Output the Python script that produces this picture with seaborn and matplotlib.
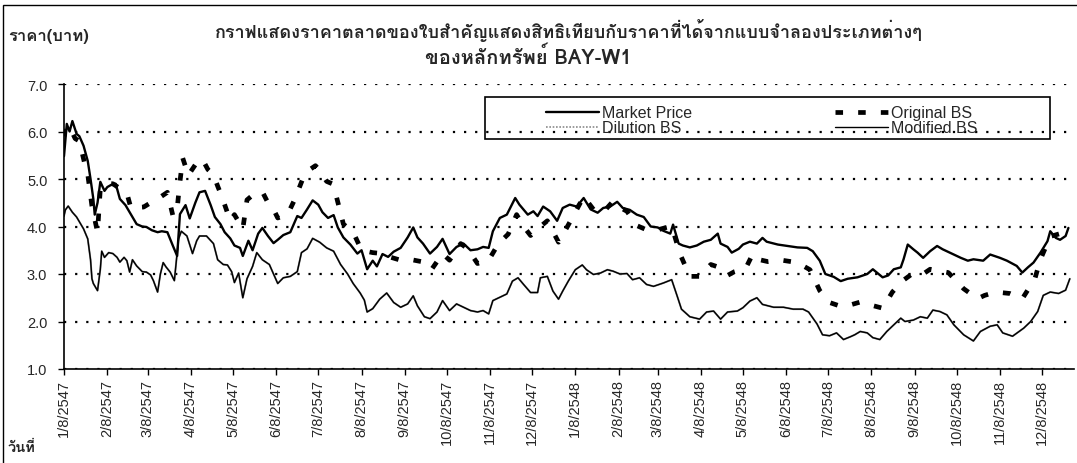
import pandas as pd
import matplotlib
matplotlib.use("Agg")
import matplotlib.pyplot as plt
import matplotlib.patches as mpatches
from matplotlib.lines import Line2D
from matplotlib import font_manager
from matplotlib.ft2font import FT2Font
import seaborn as sns

# --- DATA ---
START = pd.Timestamp("2004-01-08")   # 1/8/2547 in the Thai calendar

tick_labels = ["1/8/2547", "2/8/2547", "3/8/2547", "4/8/2547", "5/8/2547", "6/8/2547",
               "7/8/2547", "8/8/2547", "9/8/2547", "10/8/2547", "11/8/2547", "12/8/2547",
               "1/8/2548", "2/8/2548", "3/8/2548", "4/8/2548", "5/8/2548", "6/8/2548",
               "7/8/2548", "8/8/2548", "9/8/2548", "10/8/2548", "11/8/2548", "12/8/2548"]

# days after START, warrant market price (baht)
market_day = [0, 2, 4, 6, 9, 11, 14, 17, 19, 21, 22, 24, 26, 29, 31, 34, 37, 40, 44, 47,
              52, 56, 59, 63, 67, 70, 74, 78, 81, 83, 87, 90, 94, 97, 101, 105, 108, 112, 115, 119,
              122, 126, 128, 132, 135, 139, 142, 146, 150, 153, 157, 162, 167, 170, 174, 178, 182, 185, 189, 193,
              196, 200, 205, 210, 213, 217, 221, 224, 228, 232, 236, 241, 246, 250, 253, 257, 262, 267, 271, 276,
              281, 286, 291, 296, 300, 304, 307, 312, 317, 323, 326, 332, 336, 339, 343, 348, 353, 357, 362, 367,
              372, 377, 382, 386, 391, 396, 400, 405, 410, 415, 420, 425, 429, 434, 436, 440, 443, 448, 453, 458,
              463, 468, 470, 475, 478, 483, 486, 491, 496, 500, 503, 511, 518, 525, 532, 536, 541, 545, 551, 556,
              561, 568, 575, 579, 586, 590, 594, 599, 601, 604, 608, 611, 615, 620, 625, 629, 637, 642, 647, 651,
              658, 663, 670, 675, 682, 686, 690, 694, 699, 704, 706, 710, 713, 717, 719]
market_price = [5.48, 6.16, 6.0, 6.22, 5.95, 5.9, 5.7, 5.38, 5.0, 4.58, 4.25, 4.5, 4.94, 4.75, 4.83, 4.88, 4.9, 4.58, 4.45, 4.3,
                4.05, 4.0, 3.99, 3.92, 3.88, 3.9, 3.88, 3.59, 3.38, 4.26, 4.45, 4.17, 4.5, 4.72, 4.75, 4.45, 4.2, 4.05, 3.88, 3.75,
                3.6, 3.55, 3.38, 3.7, 3.5, 3.85, 3.97, 3.8, 3.65, 3.72, 3.82, 3.88, 4.22, 4.18, 4.36, 4.55, 4.46, 4.3, 4.18, 4.24,
                3.98, 3.77, 3.62, 3.43, 3.5, 3.1, 3.28, 3.16, 3.42, 3.36, 3.47, 3.55, 3.77, 3.98, 3.77, 3.64, 3.43, 3.57, 3.74, 3.42,
                3.57, 3.64, 3.5, 3.52, 3.57, 3.55, 3.9, 4.18, 4.25, 4.6, 4.46, 4.25, 4.32, 4.22, 4.42, 4.32, 4.12, 4.39, 4.46, 4.42,
                4.6, 4.36, 4.29, 4.39, 4.42, 4.52, 4.39, 4.35, 4.25, 4.2, 4.0, 3.98, 3.91, 3.85, 4.04, 3.64, 3.6, 3.56, 3.6, 3.68,
                3.72, 3.85, 3.64, 3.57, 3.45, 3.53, 3.62, 3.68, 3.64, 3.76, 3.68, 3.62, 3.59, 3.56, 3.55, 3.48, 3.28, 3.0, 2.94, 2.85,
                2.9, 2.93, 3.0, 3.1, 2.93, 2.97, 3.1, 3.14, 3.31, 3.62, 3.52, 3.45, 3.34, 3.48, 3.59, 3.52, 3.41, 3.34, 3.28, 3.31,
                3.28, 3.41, 3.34, 3.28, 3.17, 3.03, 3.14, 3.24, 3.45, 3.69, 3.9, 3.76, 3.72, 3.8, 3.97]

# Original Black-Scholes value
original_day = [0, 1, 4, 8, 11, 15, 17, 20, 24, 26, 30, 35, 40, 45, 48, 52, 57, 62, 67, 74,
                78, 81, 83, 85, 89, 94, 99, 103, 107, 110, 113, 119, 122, 128, 131, 135, 142, 146, 150, 153,
                160, 165, 171, 176, 180, 183, 188, 192, 195, 200, 207, 213, 221, 228, 233, 241, 249, 256, 263, 271,
                276, 284, 289, 296, 304, 311, 318, 324, 329, 334, 341, 346, 354, 360, 366, 372, 379, 386, 393, 398,
                403, 410, 417, 425, 435, 441, 448, 455, 463, 468, 475, 480, 488, 493, 498, 504, 514, 525, 534, 541,
                548, 557, 563, 570, 577, 586, 593, 600, 607, 615, 620, 633, 644, 654, 659, 667, 677, 686, 695, 699,
                706, 713, 719]
original_price = [5.9, 6.1, 6.1, 5.85, 5.8, 5.3, 5.1, 4.43, 3.88, 4.8, 4.9, 4.9, 4.8, 4.7, 4.38, 4.4, 4.41, 4.5, 4.58, 4.72,
                  4.22, 4.38, 4.94, 5.44, 5.08, 5.3, 5.42, 5.2, 5.09, 4.85, 4.63, 4.12, 4.25, 3.95, 4.56, 4.66, 4.73, 4.5, 4.36, 4.18,
                  4.25, 4.56, 5.01, 5.2, 5.28, 5.18, 4.95, 4.9, 4.63, 4.05, 3.88, 3.5, 3.45, 3.43, 3.36, 3.29, 3.3, 3.26, 3.09, 3.43,
                  3.29, 3.64, 3.53, 3.22, 3.29, 3.64, 3.84, 4.25, 4.0, 3.81, 4.0, 4.12, 3.67, 3.98, 4.3, 4.63, 4.36, 4.3, 4.53, 4.4,
                  4.32, 4.02, 3.93, 3.93, 4.01, 3.42, 2.95, 2.95, 3.2, 3.15, 2.97, 3.05, 3.12, 3.42, 3.3, 3.26, 3.29, 3.24, 3.09, 2.65,
                  2.4, 2.31, 2.35, 2.41, 2.35, 2.28, 2.62, 2.85, 3.0, 3.0, 3.1, 3.03, 2.69, 2.48, 2.55, 2.62, 2.59, 2.48, 2.9, 3.31,
                  3.79, 3.85, 3.93]

# Modified BS value; the Dilution BS line sits on top of it in the scan
modified_day = [0, 1, 3, 6, 9, 11, 14, 17, 19, 20, 21, 24, 26, 27, 29, 32, 35, 38, 40, 43,
                45, 47, 49, 52, 56, 59, 62, 64, 67, 69, 71, 73, 76, 79, 82, 84, 88, 92, 95, 97,
                102, 107, 110, 114, 117, 120, 122, 125, 128, 131, 135, 138, 142, 147, 153, 157, 162, 167, 170, 174,
                178, 183, 188, 193, 198, 203, 207, 212, 215, 217, 221, 226, 231, 236, 241, 246, 250, 253, 258, 262,
                267, 271, 276, 281, 286, 291, 296, 300, 304, 307, 312, 317, 321, 325, 329, 334, 339, 341, 346, 350,
                354, 357, 361, 366, 371, 374, 379, 384, 389, 393, 398, 403, 407, 412, 417, 422, 429, 435, 439, 442,
                448, 455, 460, 465, 470, 475, 482, 486, 491, 496, 500, 508, 515, 522, 529, 533, 539, 543, 548, 553,
                558, 563, 566, 570, 575, 579, 584, 589, 594, 599, 602, 608, 613, 618, 622, 627, 632, 637, 644, 651,
                656, 663, 668, 672, 679, 687, 692, 697, 701, 706, 712, 717, 720]
modified_price = [4.22, 4.35, 4.43, 4.3, 4.2, 4.1, 3.95, 3.74, 3.3, 2.9, 2.8, 2.65, 3.1, 3.48, 3.35, 3.45, 3.43, 3.35, 3.25, 3.35,
                  3.28, 3.04, 3.3, 3.17, 3.05, 3.04, 2.98, 2.86, 2.62, 3.0, 3.24, 3.15, 3.04, 2.86, 3.74, 3.9, 3.8, 3.43, 3.7, 3.8,
                  3.8, 3.64, 3.3, 3.2, 3.19, 3.05, 2.82, 3.02, 2.5, 2.9, 3.16, 3.45, 3.3, 3.2, 2.8, 2.92, 2.95, 3.05, 3.45, 3.53,
                  3.75, 3.67, 3.55, 3.48, 3.2, 3.0, 2.8, 2.6, 2.45, 2.2, 2.27, 2.47, 2.6, 2.4, 2.3, 2.37, 2.54, 2.33, 2.1, 2.06,
                  2.2, 2.44, 2.23, 2.37, 2.3, 2.23, 2.2, 2.23, 2.16, 2.44, 2.51, 2.58, 2.85, 2.92, 2.78, 2.61, 2.61, 2.92, 2.95, 2.64,
                  2.47, 2.64, 2.85, 3.09, 3.19, 3.09, 2.99, 3.02, 3.09, 3.06, 3.0, 3.01, 2.88, 2.92, 2.78, 2.74, 2.81, 2.88, 2.53, 2.26,
                  2.1, 2.05, 2.2, 2.22, 2.05, 2.2, 2.22, 2.29, 2.43, 2.5, 2.36, 2.3, 2.3, 2.26, 2.26, 2.2, 1.95, 1.72, 1.7, 1.76,
                  1.62, 1.68, 1.72, 1.79, 1.76, 1.66, 1.62, 1.79, 1.93, 2.07, 2.0, 2.03, 2.1, 2.07, 2.24, 2.21, 2.14, 1.93, 1.72, 1.59,
                  1.79, 1.9, 1.93, 1.76, 1.69, 1.86, 2.0, 2.21, 2.55, 2.62, 2.59, 2.66, 2.9]
dilution_day = modified_day
dilution_price = modified_price

TITLE_1 = "กราฟแสดงราคาตลาดของใบสำคัญแสดงสิทธิเทียบกับราคาที่ได้จากแบบจำลองประเภทต่างๆ"
TITLE_2 = "ของหลักทรัพย์ BAY-W1"
# ---------------------


def find_thai_family():
    # no Thai in the named fonts, so look for any installed face that has it
    for f in font_manager.fontManager.ttflist:
        try:
            if 0x0E01 in FT2Font(f.fname).get_charmap():
                return f.name
        except Exception:
            continue
    return None


def to_frame(days, price):
    return pd.DataFrame({"date": START + pd.to_timedelta(days, unit="D"), "price": price})


sns.set_theme(style="white")
thai = find_thai_family()
latin = ["Liberation Sans", "DejaVu Sans"]
text_family = ([thai] if thai else []) + latin
plt.rcParams["font.family"] = latin

fig = plt.figure(figsize=(10.77, 4.64), dpi=100)
ax = fig.add_axes([64 / 1077, 94 / 464, 1010 / 1077, 285 / 464])

sns.lineplot(data=to_frame(dilution_day, dilution_price), x="date", y="price", ax=ax,
             color="#8a8a8a", linewidth=1.4, estimator=None)
sns.lineplot(data=to_frame(modified_day, modified_price), x="date", y="price", ax=ax,
             color="black", linewidth=1.0, estimator=None)
sns.lineplot(data=to_frame(market_day, market_price), x="date", y="price", ax=ax,
             color="black", linewidth=1.7, estimator=None)
sns.lineplot(data=to_frame(original_day, original_price), x="date", y="price", ax=ax,
             color="black", linewidth=3.4, linestyle=(0, (1.6, 3.2)), estimator=None)

ax.set_ylim(1, 7)
ax.set_xlim(START, START + pd.Timedelta(days=723))
ax.set_yticks([1, 2, 3, 4, 5, 6, 7])
ax.set_yticklabels([f"{v:.1f}" for v in [1, 2, 3, 4, 5, 6, 7]])
tick_dates = pd.date_range(START, periods=len(tick_labels), freq=pd.DateOffset(months=1))
ax.set_xticks(tick_dates)
ax.set_xticklabels(tick_labels, rotation=90)
ax.set_xlabel("")
ax.set_ylabel("")

ax.yaxis.grid(True, color="black", linestyle=(0, (1, 4)), linewidth=1.6)
ax.xaxis.grid(False)
for side in ["top", "right"]:
    ax.spines[side].set_visible(False)
for side in ["left", "bottom"]:
    ax.spines[side].set_color("black")
    ax.spines[side].set_linewidth(1.2)
ax.tick_params(axis="both", direction="out", length=4, width=1, color="black", bottom=True, left=True)
ax.tick_params(axis="y", labelsize=10.5, pad=8)
ax.tick_params(axis="x", labelsize=10.5, pad=3)

# legend, boxed like the Excel original
handles = [Line2D([], [], color="black", lw=1.7),
           Line2D([], [], color="#8a8a8a", lw=1.2, linestyle=(0, (1, 1))),
           Line2D([], [], color="black", lw=3.4, linestyle=(0, (1.6, 3.2))),
           Line2D([], [], color="black", lw=1.0)]
labels = ["Market Price", "Dilution BS", "Original BS", "Modified BS"]
fig.legend(handles, labels, ncol=2, loc="upper left", bbox_to_anchor=(535 / 1077, 1 - 95 / 464),
           frameon=False, fontsize=11.5, handlelength=3.3, handletextpad=0.2,
           columnspacing=8.95, labelspacing=0.0, borderpad=0.2)
fig.add_artist(mpatches.Rectangle((485 / 1077, 1 - 140 / 464), 565 / 1077, 42 / 464,
                                  transform=fig.transFigure, fill=False, ec="black", lw=1.2))

# titles and axis captions
fig.text(569 / 1077, 1 - 30 / 464, TITLE_1, ha="center", va="center", fontsize=13,
         fontweight="bold", family=text_family)
fig.text(528 / 1077, 1 - 57 / 464, TITLE_2, ha="center", va="center", fontsize=14.5,
         fontweight="bold", family=text_family)
fig.text(8 / 1077, 1 - 36 / 464, "ราคา(บาท)", ha="left", va="center", fontsize=12,
         fontweight="bold", family=text_family)
fig.text(8 / 1077, 1 - 448 / 464, "วันที่", ha="left", va="center", fontsize=10.5,
         fontweight="bold", family=text_family)

# page frame of the scan
fig.add_artist(mpatches.Rectangle((3 / 1077, -0.05), 1.1, 1.05 - 6 / 464,
                                  transform=fig.transFigure, fill=False, ec="black", lw=1.0))

fig.savefig("out.png", dpi=100)
